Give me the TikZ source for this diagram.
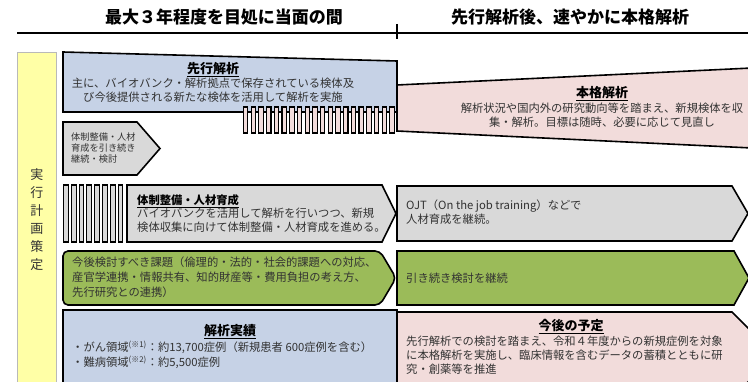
\documentclass[tikz,border=0pt]{standalone}
\usepackage{fontspec}
\setmainfont{Noto Sans CJK JP}
\definecolor{cblue}{RGB}{198,210,230}
\definecolor{cpink}{RGB}{242,220,219}
\definecolor{cgray}{RGB}{217,217,217}
\definecolor{cgreen}{RGB}{155,187,89}
\definecolor{cyellow}{RGB}{255,255,166}
\definecolor{ctext}{RGB}{50,50,50}
\begin{document}
\begin{tikzpicture}[x=1pt,y=-1pt,
  box/.style={draw=black,line width=1.6pt,line join=miter},
  tooth/.style={draw=black,line width=1.1pt},
  hdr/.style={font=\fontsize{17}{20}\selectfont\bfseries,text=black,inner sep=0pt},
  ttl/.style={font=\fontsize{13}{15}\selectfont\bfseries,text=black,inner sep=0pt},
  body/.style={font=\fontsize{11.3}{14}\selectfont,text=ctext,inner sep=0pt},
  small/.style={font=\fontsize{9.2}{11}\selectfont,text=ctext,inner sep=0pt}]
\useasboundingbox (0,0) rectangle (748,382);
\fill[white] (0,0) rectangle (748,382);
\begin{scope}
\clip (0,0) rectangle (748,382);
% header
\node[hdr] (h1) at (224,17) {最大３年程度を目処に当面の間};
\node[hdr] (h2) at (570,17) {先行解析後、速やかに本格解析};
\coordinate (ls) at (17,33);
\coordinate (le) at (748,33);
\draw[line width=2pt] (ls) -- (le);
\coordinate (tk1) at (397,24);
\coordinate (tk2) at (397,39);
\draw[line width=1.2pt] (tk1) -- (tk2);
% left column
\draw[fill=cyellow,draw=gray!55,line width=0.6pt] (17,52) rectangle (56,392);
\node[font=\fontsize{13}{18}\selectfont,text=ctext,align=center,inner sep=0pt] (vt) at (37,220) {実\\行\\計\\画\\策\\定};
% row 1 pink trapezoid
\draw[box,fill=cpink] (397,85) -- (752,68) -- (752,148) -- (397,131) -- cycle;
% row 1 blue
\draw[box,fill=cblue] (63,52) -- (397,61) -- (397,112) -- (63,112) -- cycle;
\foreach \i in {0,...,19} \draw[tooth,fill=cpink] ({243.5+\i*7.7},107) rectangle ++(4.4,26);
\node[ttl] (t1) at (213,70) {\underline{先行解析}};
\node[body,align=center,font=\fontsize{11.3}{14.5}\selectfont] (b1) at (213,90) {主に、バイオバンク・解析拠点で保存されている検体及\\び今後提供される新たな検体を活用して解析を実施};
\node[ttl] (t2) at (602,94) {\underline{本格解析}};
\node[body,align=center,font=\fontsize{11.3}{14}\selectfont] (b2) at (602,115) {解析状況や国内外の研究動向等を踏まえ、新規検体を収\\集・解析。目標は随時、必要に応じて見直し};
% row 2 gray pentagon
\draw[box,fill=cgray] (63,122) -- (137,122) -- (160,148.5) -- (137,175) -- (63,175) -- cycle;
\node[small,align=left,anchor=west] (b3) at (71,148) {体制整備・人材\\育成を引き続き\\継続・検討};
% row 3
\foreach \i in {0,...,7} \draw[tooth,fill=cgray] ({63.5+\i*7.8},185) rectangle ++(4.8,57);
\draw[box,fill=cgray] (127,185) -- (382,185) -- (396,213.5) -- (382,242) -- (127,242) -- cycle;
\node[font=\fontsize{11.3}{14}\selectfont\bfseries,text=black,inner sep=0pt,anchor=west] (t3) at (137,201.5) {\underline{体制整備・人材育成}};
\node[body,align=left,anchor=west,font=\fontsize{11.3}{13.5}\selectfont] (b4) at (137,220) {バイオバンクを活用して解析を行いつつ、新規\\検体収集に向けて体制整備・人材育成を進める。};
\draw[box,fill=cgray] (397,186) -- (732,186) -- (748,213.5) -- (732,241) -- (397,241) -- cycle;
\node[body,align=left,anchor=west,font=\fontsize{11.3}{14}\selectfont] (b5) at (406,212) {OJT（On the job training）などで\\人材育成を継続。};
% row 4 green
\draw[box,fill=cgreen,rounded corners=5pt] (63,251) -- (380,251) -- (396,278) -- (380,305) -- (63,305) -- cycle;
\node[body,align=left,anchor=west,font=\fontsize{11.3}{15}\selectfont] (b6) at (72,277) {今後検討すべき課題（倫理的・法的・社会的課題への対応、\\産官学連携・情報共有、知的財産等・費用負担の考え方、\\先行研究との連携）};
\draw[box,fill=cgreen] (397,251) -- (734,251) -- (749,278) -- (734,305) -- (397,305) -- cycle;
\node[body,anchor=west] (b7) at (406,278) {引き続き検討を継続};
% row 5
\draw[box,fill=cblue] (63,310) -- (397,310) -- (397,395) -- (63,395) -- cycle;
\node[ttl] (t4) at (230,332) {\underline{解析実績}};
\node[body,align=left,anchor=west,font=\fontsize{11.3}{15}\selectfont] (b8) at (72,355) {・がん領域\textsuperscript{(※1)}：約13,700症例（新規患者 600症例を含む）\\・難病領域\textsuperscript{(※2)}：約5,500症例};
\draw[box,fill=cpink] (397,312) -- (732,312) -- (775,355) -- (732,398) -- (397,398) -- cycle;
\node[ttl] (t5) at (571,327) {\underline{今後の予定}};
\node[body,align=left,anchor=west,font=\fontsize{11.3}{14}\selectfont] (b9) at (406,355) {先行解析での検討を踏まえ、令和４年度からの新規症例を対象\\に本格解析を実施し、臨床情報を含むデータの蓄積とともに研\\究・創薬等を推進};
\end{scope}
\end{tikzpicture}
\end{document}
